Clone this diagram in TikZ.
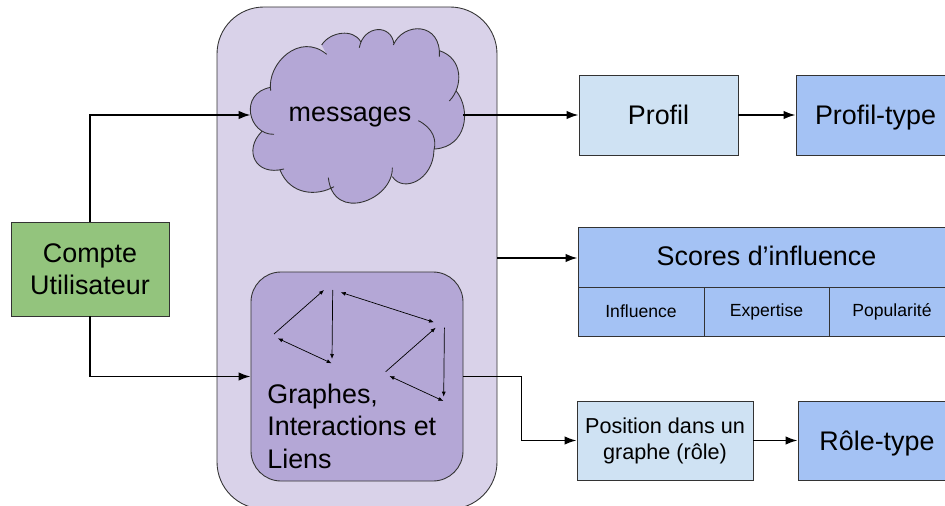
\documentclass[tikz,border=0pt]{standalone}
\usepackage{fontspec}
\setmainfont{Liberation Sans}
\usetikzlibrary{arrows.meta}
\definecolor{panelfill}{HTML}{D9D2E9}
\definecolor{purplefill}{HTML}{B4A7D6}
\definecolor{greenfill}{HTML}{93C47D}
\definecolor{palefill}{HTML}{CFE2F3}
\definecolor{bluefill}{HTML}{A4C2F4}
\definecolor{edge}{HTML}{333333}
\tikzset{
  box/.style={draw=edge,line width=0.5pt,inner sep=0pt,align=center,font=\fontsize{15.3}{18.3}\selectfont},
  oneline/.style={text height=11pt,text depth=0pt},
  link/.style={draw=black,line width=1.05pt,-{Latex[length=2.4mm,width=1.7mm]}},
  thin link/.style={draw=black,line width=0.4pt,-{Latex[length=1mm,width=0.8mm]}},
  thin both/.style={draw=black,line width=0.4pt,{Latex[length=1mm,width=0.8mm]}-{Latex[length=1mm,width=0.8mm]}},
}
% contour du nuage, #1 = liaison entre les lobes
\def\cloudpath#1{(182,272) .. controls (170,190) and (270,95) .. (350,163) #1
  (335,135) .. controls (360,95) and (430,85) .. (452,125) #1
  (448,143) .. controls (460,75) and (545,70) .. (552,133) #1
  (550,135) .. controls (580,65) and (695,65) .. (688,170) #1
  (688,152) .. controls (760,175) and (760,260) .. (718,303) #1
  (738,272) .. controls (785,330) and (770,440) .. (675,447) #1
  (625,362) .. controls (670,385) and (680,420) .. (672,450) .. controls (670,540) and (580,580) .. (547,530) #1
  (547,503) .. controls (550,600) and (370,670) .. (355,533) #1
  (372,560) .. controls (320,590) and (240,585) .. (210,510) #1
  (222,507) .. controls (135,530) and (100,450) .. (155,395) #1
  (192,403) .. controls (115,405) and (85,280) .. (182,262)}
\begin{document}
\begin{tikzpicture}[x=0.02cm,y=-0.02cm]
  \clip (0,0) rectangle (945,506);
  % grand cadre
  \node[box,fill=panelfill,rounded corners=0.94cm,minimum width=280*0.02cm,minimum height=502*0.02cm] (panel) at (357,258) {};
  % nuage
  \begin{scope}[shift={(210,0)},x=0.02cm/3,y=-0.02cm/3]
    \fill[purplefill] \cloudpath{--} -- cycle;
    \draw[edge,line width=0.5pt] \cloudpath{};
  \end{scope}
  \node[minimum width=212*0.02cm,inner sep=0pt] (cloud) at (357,115) {};
  \node[inner sep=0pt,oneline,font=\fontsize{15.3}{18.3}\selectfont] (messages) at (350,112) {messages};
  % cadre graphes
  \node[box,fill=purplefill,rounded corners=0.6cm,minimum width=212*0.02cm,minimum height=209*0.02cm] (graph) at (357,376.5) {};
  \node[anchor=west,inner sep=0pt,align=left,font=\fontsize{15.3}{18.5}\selectfont] (graphlabel) at (267,426) {Graphes,\\Interactions et\\Liens};
  % boites
  \node[box,fill=greenfill,minimum width=158*0.02cm,minimum height=94*0.02cm] (compte) at (90,269) {Compte\\Utilisateur};
  \node[box,oneline,fill=palefill,minimum width=159*0.02cm,minimum height=80*0.02cm] (profil) at (658.5,115) {Profil};
  \node[box,oneline,fill=bluefill,minimum width=159*0.02cm,minimum height=80*0.02cm] (profiltype) at (875.5,115) {Profil-type};
  \node[box,oneline,text height=10pt,fill=bluefill,minimum width=377*0.02cm,minimum height=60*0.02cm] (scores) at (766.5,257) {Scores d’influence};
  \foreach \name/\xpos/\wdt/\label in {influence/641/126/Influence,expertise/766.5/125/Expertise,popularite/892/126/Popularité}
    \node[box,fill=bluefill,minimum width=\wdt*0.02cm,minimum height=49*0.02cm,font=\fontsize{10}{12}\selectfont] (\name) at (\xpos,311.5) {\label};
  \node[box,fill=palefill,minimum width=176*0.02cm,minimum height=79*0.02cm,font=\fontsize{12.3}{14.7}\selectfont] (position) at (665,440.5) {Position dans un\\graphe (rôle)};
  \node[box,oneline,fill=bluefill,minimum width=158*0.02cm,minimum height=79*0.02cm] (roletype) at (877,440.5) {Rôle-type};
  % liaisons
  \draw[link] (compte.north) |- (cloud.west);
  \draw[link] (compte.south) |- (graph.west);
  \draw[link] (cloud.east) -- (profil.west);
  \draw[link] (profil.east) -- (profiltype.west);
  \draw[link] (panel.east) -- (panel.east -| scores.west);
  \draw[link] (graph.east) -- ++(58,0) |- (position.west);
  \draw[link] (position.east) -- (roletype.west);
  % petits graphes
  \foreach \dx/\dy/\tag in {0/0/a,111.7/37.7/b} {
    \coordinate (\tag1) at (274+\dx,334+\dy);
    \coordinate (\tag2) at (324+\dx,290+\dy);
    \coordinate (\tag3) at (332.7+\dx,290+\dy);
    \coordinate (\tag4) at (332+\dx,359+\dy);
    \coordinate (\tag5) at (331.7+\dx,363.3+\dy);
    \coordinate (\tag6) at (277.7+\dx,338.3+\dy);
    \draw[thin link] (\tag1) -- (\tag2);
    \draw[thin link] (\tag3) -- (\tag4);
    \draw[thin both] (\tag5) -- (\tag6);
  }
  \coordinate (c1) at (340.7,292.3);
  \coordinate (c2) at (434,322.3);
  \draw[thin both] (c1) -- (c2);
\end{tikzpicture}
\end{document}
